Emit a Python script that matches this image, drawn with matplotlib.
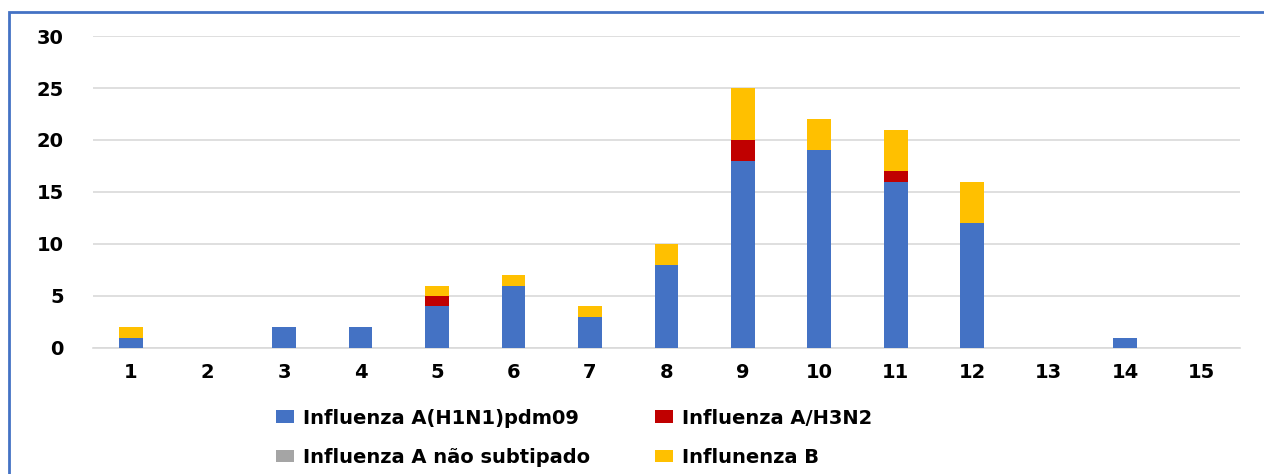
import matplotlib
matplotlib.use("Agg")
import matplotlib.pyplot as plt
import numpy as np
from matplotlib.patches import Rectangle

# dados por semana
semanas = [str(i) for i in range(1, 16)]
h1n1 = [1, 0, 2, 2, 4, 6, 3, 8, 18, 19, 16, 12, 0, 1, 0]
h3n2 = [0, 0, 0, 0, 1, 0, 0, 0, 2, 0, 1, 0, 0, 0, 0]
nao_sub = [0, 0, 0, 0, 0, 0, 0, 0, 0, 0, 0, 0, 0, 0, 0]
flu_b = [1, 0, 0, 0, 1, 1, 1, 2, 5, 3, 4, 4, 0, 0, 0]

nomes = ["Influenza A(H1N1)pdm09", "Influenza A/H3N2",
         "Influenza A não subtipado", "Influnenza B"]
cores = ["#4472C4", "#C00000", "#A5A5A5", "#FFC000"]

plt.rcParams['font.family'] = ['DejaVu Sans']
plt.rcParams['font.weight'] = 'bold'

fig = plt.figure(figsize=(12.64, 4.74), dpi=100)
ax = fig.add_axes([0.0734, 0.266, 0.9076, 0.658])

x = np.arange(1, 16)
w = 0.31
base = np.zeros(15)
barras = []
for vals, cor in zip([h1n1, h3n2, nao_sub, flu_b], cores):
    b = ax.bar(x, vals, w, bottom=base, color=cor, zorder=3)
    barras.append(b)
    base = base + np.array(vals)

ax.set_xlim(0.5, 15.5)
ax.set_ylim(0, 30)
ax.set_yticks(range(0, 31, 5))
ax.set_xticks(x)
ax.set_xticklabels(semanas)
ax.tick_params(axis='both', length=0, labelsize=14)
ax.tick_params(axis='y', pad=21)
ax.tick_params(axis='x', pad=11)
ax.grid(axis='y', color='#D9D9D9', linewidth=1.2, zorder=0)
for s in ['top', 'right', 'left']:
    ax.spines[s].set_visible(False)
ax.spines['bottom'].set_color('#D9D9D9')
ax.spines['bottom'].set_linewidth(1.2)

# ordem para ficar em duas linhas
ordem = [0, 2, 1, 3]
fig.legend([barras[i] for i in ordem], [nomes[i] for i in ordem],
           ncol=2, loc='upper left', bbox_to_anchor=(258 / 1264, 1 - 391 / 474),
           frameon=False, handlelength=0.95, handleheight=0.6,
           handletextpad=0.45, columnspacing=3.35, labelspacing=1.05,
           prop={'weight': 'bold', 'size': 14})

# moldura azul
fig.add_artist(Rectangle((9 / 1264, -0.05), 1.1, 1 - 12 / 474 + 0.05,
                         transform=fig.transFigure, fill=False,
                         edgecolor='#4472C4', linewidth=2))

fig.savefig("out.png", dpi=100)
